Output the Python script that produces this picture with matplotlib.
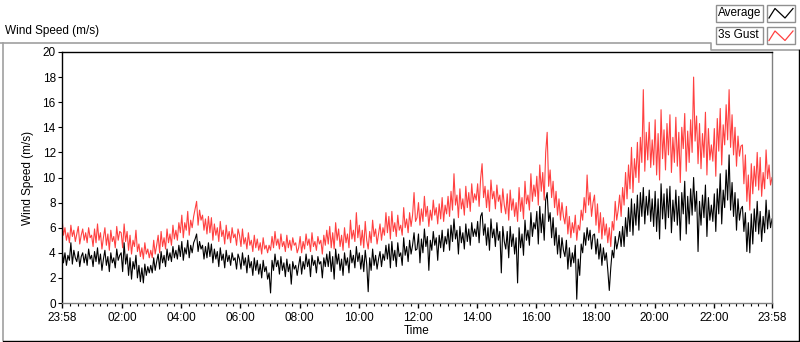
import matplotlib
matplotlib.use("Agg")
import matplotlib.pyplot as plt
from matplotlib.patches import Rectangle
import numpy as np

plt.rcParams['font.family'] = ['Liberation Sans', 'DejaVu Sans']

# ---- data: values read every 3 minutes from 23:58 to 23:58 (next day) ----
gust = [
    6.8,5.4,6.0,5.0,5.6,4.8,6.2,5.3,5.8,4.9,5.5,6.1,4.7,5.4,5.9,5.0,5.6,4.8,6.0,5.2,
    5.4,4.5,5.9,4.8,6.3,5.0,5.6,4.3,5.2,6.0,4.6,5.5,4.2,5.8,4.9,5.3,4.4,6.1,5.0,5.7,
    5.6,4.4,6.3,4.9,5.7,4.2,5.4,3.9,5.0,4.5,5.8,4.1,4.7,3.7,4.4,3.5,4.8,3.9,4.3,3.6,
    4.2,3.6,5.0,3.9,4.6,5.4,4.0,5.7,4.5,5.2,4.3,5.9,4.8,5.5,4.6,6.2,5.1,5.8,5.0,6.4,
    5.6,7.0,5.2,6.4,5.8,7.3,5.4,6.6,6.0,6.9,7.5,8.1,6.2,7.4,6.6,7.0,5.8,6.7,5.5,6.9,
    5.6,6.8,5.0,6.3,5.4,6.0,4.9,6.5,5.3,5.8,4.7,6.2,5.1,5.7,4.8,6.0,5.2,5.5,4.6,5.9,
    5.4,4.5,5.9,4.7,5.2,4.3,5.6,4.6,5.0,4.1,5.4,4.4,5.1,4.2,4.8,3.9,5.2,4.3,4.6,4.0,
    4.6,4.2,5.3,4.4,5.7,4.6,5.1,4.3,5.5,4.5,4.9,4.1,5.4,4.4,5.0,4.2,5.2,4.6,4.8,4.0,
    4.4,5.3,4.0,4.9,4.3,5.5,4.6,5.1,4.1,5.6,4.5,4.9,4.2,5.3,4.7,5.0,3.9,5.4,4.6,5.8,
    4.7,6.1,4.4,5.6,4.3,6.4,5.0,5.9,4.5,5.4,4.2,6.0,4.8,5.5,4.4,6.6,5.1,5.8,4.9,7.2,
    5.2,6.2,4.6,5.8,4.4,6.5,5.0,4.3,5.7,4.8,6.6,5.3,5.9,4.7,5.5,6.3,5.0,6.0,5.4,7.2,
    5.6,6.9,5.1,7.3,5.7,6.4,5.3,7.0,5.8,6.2,5.4,7.6,6.0,6.7,5.6,7.2,6.1,7.0,8.8,6.5,
    6.8,8.0,6.2,7.5,6.5,8.5,6.9,7.7,6.1,7.4,6.6,8.2,7.0,7.6,6.3,7.9,6.7,8.4,6.5,7.8,
    7.1,8.5,6.9,8.9,7.4,10.3,7.8,8.6,6.8,9.1,7.5,8.3,7.0,9.3,7.6,8.8,7.3,9.5,8.0,8.7,
    8.2,9.5,7.7,9.9,11.1,8.4,9.3,7.6,9.0,7.3,9.8,8.3,8.9,7.5,9.4,8.1,8.6,7.2,9.1,7.8,
    7.1,8.7,6.6,9.0,7.4,8.3,6.9,8.0,6.5,9.2,7.3,8.4,6.7,9.7,7.9,8.6,7.4,10.3,8.1,9.4,
    8.5,10.1,7.8,11.0,8.9,10.4,8.2,12.0,13.6,9.3,10.6,8.4,9.7,7.6,8.9,7.0,8.3,6.6,8.0,6.9,
    6.3,7.7,5.5,6.9,5.2,6.4,5.6,7.0,5.0,6.2,5.8,7.4,6.6,8.4,7.2,10.2,7.8,8.8,6.9,8.0,
    8.6,6.2,7.9,5.6,7.2,5.1,6.8,5.4,6.3,4.8,6.0,4.5,6.5,5.8,8.1,6.6,7.4,8.6,6.9,9.2,
    7.8,10.4,8.3,11.0,9.1,12.4,8.8,11.5,10.0,12.8,9.6,13.2,11.2,17.0,10.5,13.6,11.4,14.4,10.8,13.0,
    11.0,14.6,10.2,13.5,9.8,15.4,11.5,13.8,10.6,14.3,11.8,15.0,10.4,13.2,11.2,14.8,10.9,13.6,9.6,14.0,
    12.3,15.1,10.5,13.7,11.2,14.6,12.0,18.0,12.9,14.9,11.1,14.3,10.7,13.5,11.6,15.2,10.2,13.9,11.4,12.6,
    11.3,13.9,10.1,14.7,12.1,15.5,11.0,14.2,12.6,15.8,13.0,17.0,12.4,15.0,11.8,14.0,10.9,13.3,11.7,12.5,
    12.6,9.5,11.8,8.1,10.2,7.4,11.1,8.7,10.9,9.3,12.0,9.0,11.6,8.5,10.4,9.1,12.2,9.9,11.0,9.4,10.0,
]
average = [
    4.4,3.2,4.0,3.0,3.8,3.4,4.8,3.1,4.2,3.6,3.3,4.1,2.9,3.7,4.0,3.2,3.9,3.0,4.3,3.5,
    3.8,2.9,4.1,3.3,4.4,3.1,3.9,2.6,3.5,4.2,3.0,3.7,2.5,4.0,3.2,3.6,2.8,4.3,3.4,3.8,
    4.0,2.5,4.8,3.1,3.9,2.2,3.6,1.9,3.3,2.7,3.8,2.0,3.0,1.7,2.8,1.6,3.1,2.2,2.9,2.4,
    3.0,2.4,3.6,2.6,3.3,3.9,2.7,4.1,3.2,3.8,2.9,4.3,3.4,4.0,3.3,4.5,3.6,4.2,3.5,4.6,
    3.7,4.9,3.4,4.4,3.9,5.0,3.6,4.6,4.0,4.8,5.1,5.5,4.1,4.9,4.3,4.6,3.5,4.5,3.6,4.8,
    3.7,4.7,3.2,4.3,3.5,4.1,2.9,4.4,3.4,3.9,2.8,4.2,3.3,3.8,3.0,4.0,3.4,3.6,2.7,3.9,
    3.5,2.7,4.0,3.0,3.6,2.4,3.8,2.8,3.3,2.2,3.6,2.6,3.4,2.3,3.1,2.0,3.4,2.5,2.9,1.9,
    2.4,0.8,3.4,2.6,3.9,2.9,3.4,2.3,3.7,2.6,3.2,2.1,3.5,2.5,3.1,1.5,3.3,2.7,3.0,2.2,
    3.0,3.7,2.3,3.3,2.7,3.9,2.9,3.5,2.1,3.8,3.0,3.4,2.4,3.7,3.1,3.3,2.0,3.6,2.9,3.9,
    2.9,4.1,2.5,3.7,1.9,4.3,3.1,3.9,2.6,3.5,2.2,4.0,3.0,3.6,2.4,4.2,3.2,3.8,2.8,4.5,
    3.3,4.0,2.7,3.8,2.5,4.2,3.1,0.9,3.6,2.6,4.3,3.0,3.8,2.7,3.5,4.1,2.9,3.9,3.4,4.6,
    3.5,4.7,2.8,4.9,3.4,4.2,2.9,4.8,3.7,4.0,3.0,5.2,3.8,4.5,3.3,5.0,3.9,4.6,5.6,4.2,
    4.3,5.5,3.2,5.1,4.0,5.9,4.5,5.3,2.6,5.0,4.2,5.7,4.6,5.2,3.4,5.4,4.4,5.8,4.1,5.3,
    4.7,5.9,4.2,6.2,4.9,6.7,5.1,5.8,3.9,6.1,4.8,5.6,4.3,6.3,4.9,5.9,4.6,6.4,5.3,5.9,
    5.3,6.5,4.8,6.9,7.2,5.4,6.3,4.6,6.0,4.2,6.7,5.2,5.9,4.5,6.4,5.0,5.7,2.4,6.1,4.9,
    4.3,5.7,3.6,6.1,4.5,5.5,3.9,5.2,1.6,6.0,4.4,5.5,3.8,6.6,5.0,5.8,4.6,7.2,5.3,6.4,
    5.9,7.3,4.7,7.7,5.6,7.1,5.0,8.2,8.8,6.5,7.2,5.2,6.8,4.6,6.0,3.9,5.4,3.6,5.2,4.2,
    3.7,5.0,2.7,4.4,2.9,4.0,3.2,4.6,0.3,3.5,2.2,4.7,4.0,5.6,4.6,6.0,5.0,5.8,4.3,5.4,
    5.5,3.9,5.1,3.5,4.7,3.0,4.4,3.4,4.0,2.6,1.0,2.8,4.2,3.6,5.3,4.3,4.9,5.7,4.5,6.1,
    4.5,6.8,5.3,7.6,5.7,8.3,5.4,7.9,6.2,8.6,5.8,8.8,6.9,9.2,6.3,8.5,7.0,9.0,6.5,8.3,
    6.1,8.9,5.7,8.3,5.1,9.5,6.7,8.7,5.9,9.1,6.8,9.3,5.6,8.2,6.5,9.0,6.2,8.5,5.0,8.8,
    7.1,9.7,5.5,8.5,6.3,9.1,7.0,10.0,7.3,8.9,4.1,8.1,6.2,8.6,6.8,9.4,5.3,8.4,6.6,7.8,
    6.5,8.7,5.7,9.1,7.1,10.3,6.3,9.0,7.6,10.6,8.2,11.8,7.4,9.6,6.9,8.8,5.8,8.3,6.6,7.5,
    7.7,5.7,7.2,4.1,6.4,4.0,7.1,4.7,7.5,5.7,8.1,5.5,7.3,4.9,6.9,5.6,8.2,5.9,7.4,6.0,6.7,
]
sample_minutes = 3
tick_labels = ["23:58", "02:00", "04:00", "06:00", "08:00", "10:00", "12:00",
               "14:00", "16:00", "18:00", "20:00", "22:00", "23:58"]
tick_minutes = [0, 122, 242, 362, 482, 602, 722, 842, 962, 1082, 1202, 1322, 1440]
y_ticks = [0, 2, 4, 6, 8, 10, 12, 14, 16, 18, 20]
series_names = ["Average", "3s Gust"]

W, H = 800, 342
fig = plt.figure(figsize=(W / 100, H / 100), dpi=100)
fig.patch.set_facecolor("white")

# overlay for frame decoration (pixel coordinates)
ov = fig.add_axes([0, 0, 1, 1], zorder=0)
ov.set_xlim(0, W)
ov.set_ylim(H, 0)
ov.axis("off")
gray = "#a0a0a0"
ov.plot([0, 711, 711, 800], [42.5, 42.5, 49.5, 49.5], color=gray, lw=1.2)
ov.plot([2.5, 2.5], [42.5, 340], color=gray, lw=1.2)
ov.plot([2.5, 798.5, 798.5], [340.5, 340.5, 49.5], color="black", lw=1.0)

ov.text(5, 31, "Wind Speed (m/s)", fontsize=8.5, va="center", ha="left")

# legend
def legend_row(y0, label, color):
    ov.add_patch(Rectangle((715.5, y0), 47, 17, fill=True, facecolor="white",
                           edgecolor="#909090", lw=1.0))
    ov.text(717.5, y0 + 8.5, label, fontsize=8.5, va="center", ha="left")
    ov.add_patch(Rectangle((766.5, y0), 28.5, 17, fill=True, facecolor="white",
                           edgecolor="#909090", lw=1.0))
    ov.plot([769, 775, 785, 793], [y0 + 13.5, y0 + 4, y0 + 13.5, y0 + 4],
            color=color, lw=0.9)

legend_row(4.5, series_names[0], "black")
legend_row(27, series_names[1], "#ff4040")

# main plot
L, R, T, B = 62, 772, 52, 303
ax = fig.add_axes([L / W, 1 - B / H, (R - L) / W, (B - T) / H], zorder=2)
t = np.arange(len(gust)) * sample_minutes
ax.plot(t, gust, color="#ff4040", lw=0.8)
ax.plot(t, average, color="black", lw=0.8)
ax.set_xlim(0, 1440)
ax.set_ylim(0, 20)

ax.set_yticks(y_ticks)
ax.set_yticklabels([str(v) for v in y_ticks], fontsize=8.5)
ax.set_xticks(tick_minutes)
ax.set_xticklabels(tick_labels, fontsize=8.5)
ax.set_xticks([17 + 15 * k for k in range(0, 96) if 17 + 15 * k < 1440
               and (17 + 15 * k - 2) % 120 != 0], minor=True)
ax.tick_params(axis="y", direction="out", length=3, width=0.8, pad=1.5)
ax.tick_params(axis="x", which="major", direction="out", length=3.5, width=1.0, pad=3)
ax.tick_params(axis="x", which="minor", direction="out", length=2, width=0.8)

for s in ["top", "left"]:
    ax.spines[s].set_color("black")
    ax.spines[s].set_linewidth(1.0)
for s in ["bottom", "right"]:
    ax.spines[s].set_color("#808080")
    ax.spines[s].set_linewidth(1.0)

ax.set_xlabel("Time", fontsize=8.5, labelpad=1)
ax.set_ylabel("Wind Speed (m/s)", fontsize=8.5, labelpad=6)

fig.savefig("out.png", dpi=100, facecolor="white")
